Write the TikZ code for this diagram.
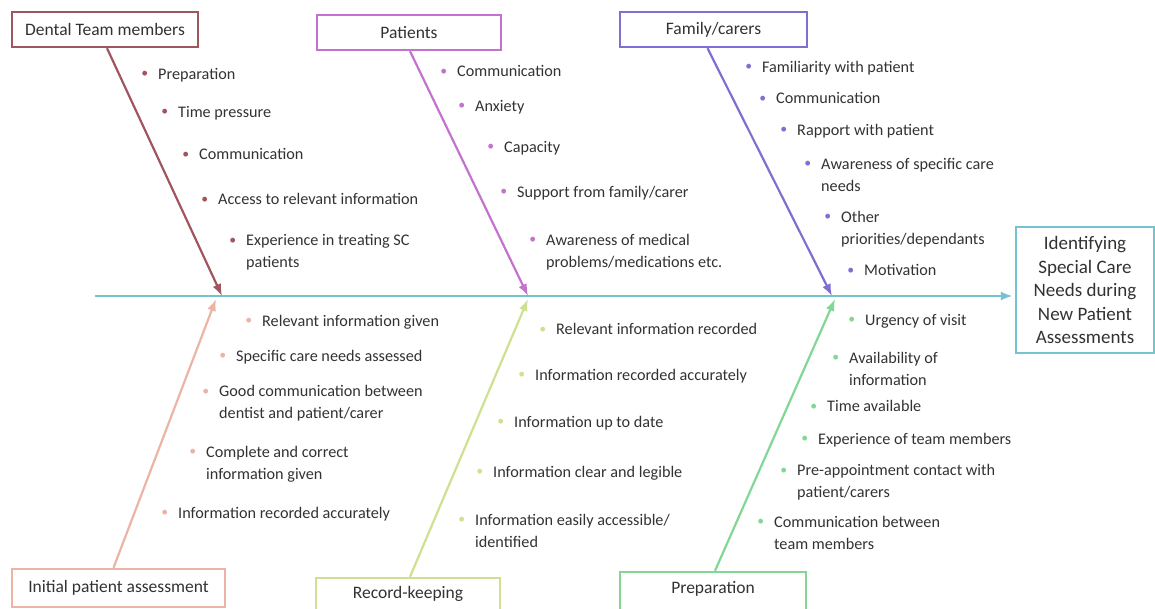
\documentclass[tikz,border=0pt]{standalone}
\usepackage{fontspec}
\setmainfont{Carlito}
\usepackage{xcolor}
\usetikzlibrary{calc}
\usetikzlibrary{arrows.meta}
\definecolor{textc}{RGB}{50,50,50}
\definecolor{spinec}{RGB}{115,195,210}
\definecolor{dentc}{RGB}{160,85,95}
\definecolor{patc}{RGB}{195,115,205}
\definecolor{famc}{RGB}{130,110,210}
\definecolor{initc}{RGB}{235,180,165}
\definecolor{recc}{RGB}{205,225,145}
\definecolor{prepc}{RGB}{130,215,150}
\tikzset{>={Latex[length=12pt, width=9pt]}}
\tikzset{
    catbox/.style = {draw, rectangle, fill=white,
        line width=2.4pt, inner sep=0pt,
        font=\fontsize{17.5}{20}\selectfont, text=textc},
    effectbox/.style = {draw=spinec, rectangle, line width=2.4pt,
        align=center, inner sep=0pt,
        font=\fontsize{19}{23.5}\selectfont, text=textc},
    item/.style = {anchor=west, align=left, inner sep=0pt,
        font=\fontsize{16.2}{22}\selectfont, text=textc},
    bone/.style = {draw, ->, line width=2.2pt},
    spine/.style = {draw=spinec, ->, line width=2.6pt}
}
\newcommand{\bul}[1]{\llap{\textcolor{#1}{\raisebox{1.5pt}{\scalebox{0.85}{\textbullet}}}\hspace{10pt}}}

\begin{document}
\begin{tikzpicture}[x=1pt, y=-1pt]
    \useasboundingbox (0,0) rectangle (1155,608);

    % category boxes
    \node [catbox, draw=dentc, minimum width=186pt, minimum height=35pt] (dental) at (105,29.5) {Dental Team members};
    \node [catbox, draw=patc, minimum width=184pt, minimum height=35pt] (patients) at (409,32.5) {Patients};
    \node [catbox, draw=famc, minimum width=187pt, minimum height=35pt] (family) at (713.5,29.5) {Family/carers};
    \node [catbox, draw=initc, minimum width=213pt, minimum height=38pt, text height=12pt, text depth=4pt] (initial) at (118.5,588) {Initial patient assessment};
    \node [catbox, draw=recc, minimum width=184pt, minimum height=38pt, text height=12pt, text depth=9pt] (record) at (408,597) {Record-keeping};
    \node [catbox, draw=prepc, minimum width=186pt, minimum height=40pt, text height=12pt, text depth=9pt] (prep) at (713,592) {Preparation};
    \node [effectbox, minimum width=138pt, minimum height=126pt] (effect) at (1085,290)
        {Identifying\\Special Care\\Needs during\\New Patient\\Assessments};

    % spine and joints
    \coordinate (tail) at (95,296);
    \coordinate (j1) at (222,296);
    \coordinate (j2) at (528,296);
    \coordinate (j3) at (832,296);
    \coordinate (k1) at (216,299);
    \coordinate (k2) at (528,299);
    \coordinate (k3) at (835,299);
    \draw [spine, shorten >=2pt] (tail) -- (tail -| effect.west);

    % bones
    \draw [bone, dentc] ([xshift=2pt]dental.south) -- (j1);
    \draw [bone, patc] ([xshift=1pt]patients.south) -- (j2);
    \draw [bone, famc] ([xshift=-6pt]family.south) -- (j3);
    \draw [bone, initc] ([xshift=-5pt]initial.north) -- (k1);
    \draw [bone, recc] ([xshift=2pt]record.north) -- (k2);
    \draw [bone, prepc] ([xshift=2pt]prep.north) -- (k3);

    % causes
    \foreach \x/\y/\t [count=\i] in {158/75/{Preparation}, 178/113/{Time pressure},
        199/154/{Communication}, 218/199/{Access to relevant information},
        246/252.5/{Experience in treating SC\\patients}}
        \node [item] (dt\i) at (\x,\y) {\bul{dentc}\t};
    \foreach \x/\y/\t [count=\i] in {457/71/{Communication}, 475/107/{Anxiety},
        504/148/{Capacity}, 517/193/{Support from family/carer},
        546/252/{Awareness of medical\\problems/medications etc.}}
        \node [item] (pt\i) at (\x,\y) {\bul{patc}\t};
    \foreach \x/\y/\t [count=\i] in {762/68/{Familiarity with patient}, 776/98/{Communication},
        797/131/{Rapport with patient}, 821/174.5/{Awareness of specific care\\needs},
        841/229/{Other\\priorities/dependants}, 864/270/{Motivation}}
        \node [item] (fc\i) at (\x,\y) {\bul{famc}\t};
    \foreach \x/\y/\t [count=\i] in {262/322/{Relevant information given},
        236/357/{Specific care needs assessed},
        219/403.5/{Good communication between\\dentist and patient/carer},
        206/464/{Complete and correct\\information given},
        178/514/{Information recorded accurately}}
        \node [item] (ia\i) at (\x,\y) {\bul{initc}\t};
    \foreach \x/\y/\t [count=\i] in {556/329/{Relevant information recorded},
        535/376/{Information recorded accurately}, 514/423/{Information up to date},
        493/473/{Information clear and legible},
        475/530.5/{Information easily accessible/\\identified}}
        \node [item] (rk\i) at (\x,\y) {\bul{recc}\t};
    \foreach \x/\y/\t [count=\i] in {865/321/{Urgency of visit},
        849/368.5/{Availability of\\information}, 827/406/{Time available},
        818/440/{Experience of team members},
        797/482.5/{Pre-appointment contact with\\patient/carers},
        774/532.5/{Communication between\\team members}}
        \node [item] (pr\i) at (\x,\y) {\bul{prepc}\t};
\end{tikzpicture}
\end{document}
